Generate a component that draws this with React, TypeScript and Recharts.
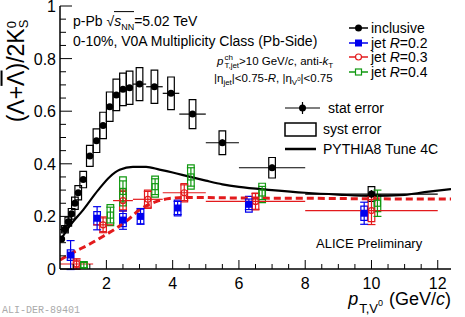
import React from "react";
import { ComposedChart, XAxis, YAxis, Scatter, Line, ErrorBar, ReferenceArea } from "recharts";

const FONT = '"Liberation Sans", Arial, Helvetica, sans-serif';
const RED = "#e31a1c";
const BLUE = "#0000ee";
const GREEN = "#119911";

// axis ticks
const X_TICKS = [1, 1.5, 2, 2.5, 3, 3.5, 4, 4.5, 5, 5.5, 6, 6.5, 7, 7.5, 8, 8.5, 9, 9.5, 10, 10.5, 11, 11.5, 12];
const X_LABELS = [2, 4, 6, 8, 10, 12];
const Y_TICKS = [0, 0.05, 0.1, 0.15, 0.2, 0.25, 0.3, 0.35, 0.4, 0.45, 0.5, 0.55, 0.6, 0.65, 0.7, 0.75, 0.8, 0.85, 0.9, 0.95, 1];
const Y_LABELS = [0, 0.2, 0.4, 0.6, 0.8, 1];

// inclusive Lambda/K0s
const inclX = [0.65, 0.75, 0.85, 0.95, 1.05, 1.15, 1.3, 1.5, 1.7, 1.9, 2.1, 2.3, 2.5, 2.7, 3.0, 3.45, 3.95, 4.6, 5.5, 7.0, 10.0];
const inclLo = [0.6, 0.7, 0.8, 0.9, 1.0, 1.1, 1.2, 1.4, 1.6, 1.8, 2.0, 2.2, 2.4, 2.6, 2.8, 3.2, 3.7, 4.2, 5.0, 6.0, 8.0];
const inclHi = [0.7, 0.8, 0.9, 1.0, 1.1, 1.2, 1.4, 1.6, 1.8, 2.0, 2.2, 2.4, 2.6, 2.8, 3.2, 3.7, 4.2, 5.0, 6.0, 8.0, 12.0];
const inclY = [0.114, 0.151, 0.18, 0.21, 0.25, 0.29, 0.34, 0.43, 0.488, 0.546, 0.617, 0.662, 0.683, 0.689, 0.703, 0.693, 0.668, 0.589, 0.48, 0.385, 0.285];
const inclStat = [0.004, 0.004, 0.004, 0.004, 0.005, 0.005, 0.005, 0.005, 0.006, 0.006, 0.007, 0.007, 0.008, 0.008, 0.008, 0.009, 0.01, 0.01, 0.012, 0.012, 0.015];
const inclSys = [0.011, 0.014, 0.017, 0.02, 0.023, 0.027, 0.031, 0.04, 0.045, 0.05, 0.056, 0.06, 0.062, 0.063, 0.063, 0.063, 0.062, 0.055, 0.045, 0.039, 0.028];

// jet bins (R=0.3 carries the bin width)
const binLo = [0.6, 1.6, 2.2, 2.8, 3.7, 5.0, 8.0];
const binHi = [1.6, 2.2, 2.8, 3.7, 5.0, 8.0, 12.0];

const r02X = [0.92, 1.72, 2.5, 3.03, 4.15, 6.3, 9.78];
const r02Y = [0.053, 0.193, 0.186, 0.2, 0.232, 0.246, 0.212];
const r02Stat = [0.055, 0.044, 0.035, 0.03, 0.025, 0.02, 0.042];
const r02Sys = [0.02, 0.025, 0.025, 0.028, 0.03, 0.03, 0.027];

const r03X = [1.1, 1.9, 2.5, 3.25, 4.35, 6.5, 10.0];
const r03Y = [0.019, 0.168, 0.26, 0.265, 0.29, 0.257, 0.222];
const r03Stat = [0.02, 0.03, 0.035, 0.03, 0.03, 0.03, 0.053];
const r03Sys = [0.015, 0.026, 0.04, 0.035, 0.035, 0.032, 0.042];

const r04X = [1.32, 2.12, 2.5, 3.47, 4.55, 6.7, 10.18];
const r04Y = [0.015, 0.205, 0.295, 0.313, 0.35, 0.289, 0.25];
const r04Stat = [0.01, 0.03, 0.04, 0.03, 0.035, 0.025, 0.05];
const r04Sys = [0.013, 0.04, 0.055, 0.04, 0.046, 0.037, 0.032];

// PYTHIA8 Tune 4C, inclusive (solid) and in jets (dashed)
const pyX = [0.6, 0.9, 1.3, 1.75, 2.1, 2.4, 2.8, 3.2, 3.6, 4.0, 4.5, 5.0, 5.5, 6.0, 7.0, 8.0, 9.0, 10.0, 11.0, 11.6, 12.4];
const pyY = [0.107, 0.165, 0.225, 0.3, 0.35, 0.377, 0.388, 0.388, 0.378, 0.367, 0.351, 0.336, 0.322, 0.312, 0.3, 0.29, 0.283, 0.278, 0.282, 0.292, 0.304];
const pyJetX = [0.6, 1.0, 1.5, 2.0, 2.3, 2.6, 3.0, 3.5, 3.9, 4.5, 6.0, 8.0, 10.0, 12.4];
const pyJetY = [0.034, 0.063, 0.095, 0.132, 0.155, 0.182, 0.225, 0.256, 0.268, 0.272, 0.27, 0.269, 0.267, 0.266];

const incl = inclX.map((x, i) => ({ x, y: inclY[i], ey: inclStat[i], ex: [x - inclLo[i], inclHi[i] - x], sys: inclSys[i] }));
const jet02 = r02X.map((x, i) => ({ x, y: r02Y[i], ey: r02Stat[i], sys: r02Sys[i] }));
const jet03 = r03X.map((x, i) => ({ x, y: r03Y[i], ey: r03Stat[i], ex: [x - binLo[i], binHi[i] - x], sys: r03Sys[i] }));
const jet04 = r04X.map((x, i) => ({ x, y: r04Y[i], ey: r04Stat[i], sys: r04Sys[i] }));
const pythia = pyX.map((x, i) => ({ x, y: pyY[i] }));
const pythiaJet = pyJetX.map((x, i) => ({ x, y: pyJetY[i] }));

const BOX_HALF = 0.1;

function BottomTick(props: any) {
  const { x, y, payload } = props;
  const major = X_LABELS.includes(payload.value);
  return (
    <g>
      <line x1={x} x2={x} y1={y} y2={y - (major ? 9 : 5)} stroke="#000" strokeWidth={1} />
      {major && (
        <text x={x} y={y + 20} textAnchor="middle" fontSize={16} fontFamily={FONT} fill="#000">
          {payload.value}
        </text>
      )}
    </g>
  );
}

function TopTick(props: any) {
  const { x, y, payload } = props;
  const major = X_LABELS.includes(payload.value);
  return <line x1={x} x2={x} y1={y} y2={y + (major ? 9 : 5)} stroke="#000" strokeWidth={1} />;
}

function LeftTick(props: any) {
  const { x, y, payload } = props;
  const major = Y_LABELS.includes(payload.value);
  return (
    <g>
      <line x1={x} x2={x + (major ? 12 : 6)} y1={y} y2={y} stroke="#000" strokeWidth={1} />
      {major && (
        <text x={x - 4} y={y + 6} textAnchor="end" fontSize={16} fontFamily={FONT} fill="#000">
          {payload.value}
        </text>
      )}
    </g>
  );
}

function RightTick(props: any) {
  const { x, y, payload } = props;
  const major = Y_LABELS.includes(payload.value);
  return <line x1={x} x2={x - (major ? 12 : 6)} y1={y} y2={y} stroke="#000" strokeWidth={1} />;
}

const dot = (p: any) => <circle cx={p.cx} cy={p.cy} r={3.5} fill="#000" />;
const blueSq = (p: any) => <rect x={p.cx - 3.5} y={p.cy - 3.5} width={7} height={7} fill={BLUE} />;
const redCirc = (p: any) => <circle cx={p.cx} cy={p.cy} r={3} fill="none" stroke={RED} strokeWidth={1.2} />;
const greenSq = (p: any) => <rect x={p.cx - 3} y={p.cy - 3} width={6} height={6} fill="none" stroke={GREEN} strokeWidth={1.2} />;

function boxes(data: any[], color: string, key: string) {
  return data.map((d, i) => (
    <ReferenceArea
      key={key + i}
      x1={d.x - BOX_HALF}
      x2={d.x + BOX_HALF}
      y1={d.y - d.sys}
      y2={d.y + d.sys}
      fill="none"
      fillOpacity={0}
      stroke={color}
      strokeWidth={1.2}
    />
  ));
}

function T({ x, y, size = 14, children, style }: any) {
  return (
    <div style={{ position: "absolute", left: x, top: y, fontSize: size, lineHeight: 1, whiteSpace: "nowrap", transform: "translateY(-50%)", ...style }}>
      {children}
    </div>
  );
}

const stack = (sup: string, sub: string) => (
  <span style={{ display: "inline-flex", flexDirection: "column", fontSize: 8, lineHeight: "8px", verticalAlign: "middle", marginLeft: 1 }}>
    <span>{sup}</span>
    <span>{sub}</span>
  </span>
);

export default function App() {
  const axisLine = { stroke: "#000", strokeWidth: 1.5 };
  return (
    <div style={{ position: "absolute", left: 0, top: 0, width: 465, height: 317, background: "#fff", fontFamily: FONT, color: "#000" }}>
      <ComposedChart width={465} height={317} margin={{ top: 6, right: 14, bottom: 0, left: 0 }}>
        <XAxis dataKey="x" type="number" domain={[0.6, 12.4]} ticks={X_TICKS} interval={0} tickSize={0} tickMargin={0}
          tick={<BottomTick />} tickLine={false} axisLine={axisLine} height={48} allowDataOverflow />
        <XAxis xAxisId="top" orientation="top" dataKey="x" type="number" domain={[0.6, 12.4]} ticks={X_TICKS} interval={0}
          tickSize={0} tickMargin={0} tick={<TopTick />} tickLine={false} axisLine={axisLine} height={0} allowDataOverflow />
        <YAxis dataKey="y" type="number" domain={[0, 1]} ticks={Y_TICKS} interval={0} tickSize={0} tickMargin={0}
          tick={<LeftTick />} tickLine={false} axisLine={axisLine} width={60} allowDataOverflow />
        <YAxis yAxisId="right" orientation="right" dataKey="y" type="number" domain={[0, 1]} ticks={Y_TICKS} interval={0}
          tickSize={0} tickMargin={0} tick={<RightTick />} tickLine={false} axisLine={axisLine} width={0} allowDataOverflow />

        {boxes(incl, "#000", "bi")}
        {boxes(jet02, BLUE, "b2")}
        {boxes(jet03, RED, "b3")}
        {boxes(jet04, GREEN, "b4")}

        <Line data={pythia} dataKey="y" type="monotone" stroke="#000" strokeWidth={2.2} dot={false} isAnimationActive={false} />
        <Line data={pythiaJet} dataKey="y" type="monotone" stroke={RED} strokeWidth={3} strokeDasharray="7 4" dot={false} isAnimationActive={false} />

        <Scatter data={jet03} dataKey="y" shape={redCirc} isAnimationActive={false}>
          <ErrorBar dataKey="ex" direction="x" width={0} stroke={RED} strokeWidth={1.2} />
          <ErrorBar dataKey="ey" direction="y" width={4} stroke={RED} strokeWidth={1.2} />
        </Scatter>
        <Scatter data={jet02} dataKey="y" shape={blueSq} isAnimationActive={false}>
          <ErrorBar dataKey="ey" direction="y" width={4} stroke={BLUE} strokeWidth={1.2} />
        </Scatter>
        <Scatter data={jet04} dataKey="y" shape={greenSq} isAnimationActive={false}>
          <ErrorBar dataKey="ey" direction="y" width={4} stroke={GREEN} strokeWidth={1.2} />
        </Scatter>
        <Scatter data={incl} dataKey="y" shape={dot} isAnimationActive={false}>
          <ErrorBar dataKey="ex" direction="x" width={0} stroke="#000" strokeWidth={1.2} />
          <ErrorBar dataKey="ey" direction="y" width={0} stroke="#000" strokeWidth={1.2} />
        </Scatter>
      </ComposedChart>

      <svg width={465} height={317} style={{ position: "absolute", left: 0, top: 0, pointerEvents: "none" }}>
        <line x1={349} x2={368} y1={28} y2={28} stroke="#000" strokeWidth={1.5} />
        <circle cx={358.5} cy={28} r={3.5} fill="#000" />
        <line x1={349} x2={368} y1={43} y2={43} stroke={BLUE} strokeWidth={1.5} />
        <rect x={355} y={39.5} width={7} height={7} fill={BLUE} />
        <line x1={349} x2={368} y1={57} y2={57} stroke={RED} strokeWidth={1.5} />
        <circle cx={358.5} cy={57} r={3} fill="#fff" stroke={RED} strokeWidth={1.2} />
        <line x1={349} x2={368} y1={72} y2={72} stroke={GREEN} strokeWidth={1.5} />
        <rect x={355.5} y={69} width={6} height={6} fill="#fff" stroke={GREEN} strokeWidth={1.2} />
        <line x1={285} x2={320} y1={108} y2={108} stroke="#000" strokeWidth={1.2} />
        <line x1={302.5} x2={302.5} y1={102} y2={114} stroke="#000" strokeWidth={1.2} />
        <circle cx={302.5} cy={108} r={3.5} fill="#000" />
        <rect x={285} y={123} width={31} height={13} fill="none" stroke="#000" strokeWidth={1.5} />
        <line x1={285} x2={316} y1={149} y2={149} stroke="#000" strokeWidth={2.5} />
      </svg>

      <T x={371} y={28}>inclusive</T>
      <T x={371} y={43}>jet <i>R</i>=0.2</T>
      <T x={371} y={57}>jet <i>R</i>=0.3</T>
      <T x={371} y={72}>jet <i>R</i>=0.4</T>
      <T x={328} y={108}>stat error</T>
      <T x={323} y={129}>syst error</T>
      <T x={323} y={149}>PYTHIA8 Tune 4C</T>

      <T x={73} y={23}>
        p-Pb √<span style={{ borderTop: "1px solid #000", paddingTop: 1 }}><i>s</i><sub style={{ fontSize: 9 }}>NN</sub></span>=5.02 TeV
      </T>
      <T x={73} y={41}>0-10%, V0A Multiplicity Class (Pb-Side)</T>
      <T x={217} y={62} size={11.5}>
        <i>p</i>{stack("ch", "T,jet")}&gt;10 GeV/<i>c</i>, anti-<i>k</i><sub style={{ fontSize: 8 }}>T</sub>
      </T>
      <T x={214} y={80} size={11.5}>
        |η<sub style={{ fontSize: 8 }}>jet</sub>|&lt;0.75-<i>R</i>, |η<sub style={{ fontSize: 8 }}>V<sup style={{ fontSize: 6 }}>0</sup></sub>|&lt;0.75
      </T>
      <T x={316} y={243} size={13}>ALICE Preliminary</T>
      <T x={2} y={311} size={10} style={{ color: "#aaa", fontFamily: '"Liberation Mono", "DejaVu Sans Mono", monospace' }}>ALI-DER-89401</T>

      <div style={{ position: "absolute", right: 14, top: 290, fontSize: 18, lineHeight: 1, whiteSpace: "nowrap" }}>
        <i>p</i>
        <span style={{ fontSize: 13, position: "relative", top: 8, marginLeft: 1 }}>
          T,V<span style={{ fontSize: 9, position: "relative", top: -7 }}>0</span>
        </span>
        <span style={{ marginLeft: 6 }}>(GeV/<i>c</i>)</span>
      </div>
      <div style={{ position: "absolute", left: 17, top: 71, transform: "translate(-50%, -50%) rotate(-90deg)", fontSize: 23, lineHeight: 1, whiteSpace: "nowrap" }}>
        (Λ+<span style={{ textDecoration: "overline" }}>Λ</span>)/2K
        <span style={{ display: "inline-flex", flexDirection: "column", fontSize: 13, lineHeight: "12px", verticalAlign: "middle" }}>
          <span>0</span>
          <span>S</span>
        </span>
      </div>
    </div>
  );
}
